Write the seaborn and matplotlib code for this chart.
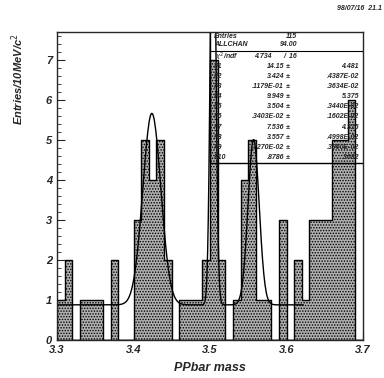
import numpy as np
import pandas as pd
import matplotlib
matplotlib.use("Agg")
import matplotlib.pyplot as plt
import seaborn as sns
from matplotlib.ticker import MultipleLocator

# ---- data ----
x_min, x_max, n_bins = 3.3, 3.7, 40
counts = [1, 2, 0, 1, 1, 1, 0, 2, 0, 0,
          3, 5, 4, 5, 2, 0, 1, 1, 1, 2,
          7, 2, 0, 1, 4, 5, 1, 1, 0, 3,
          0, 2, 1, 3, 3, 3, 5, 5, 6, 0]
x_ticks = [3.3, 3.4, 3.5, 3.6, 3.7]
y_ticks = [0, 1, 2, 3, 4, 5, 6, 7]

# fit parameters (three gaussians + flat background)
par_names = ["P1", "P2", "P3", "P4", "P5", "P6", "P7", "P8", "P9", "P10"]
par_vals = [14.15, 3.424, 0.01179, 9.949, 3.504, 0.003403, 7.536, 3.557, 0.00727, 0.8786]
par_txt = ["14.15", "3.424", ".1179E-01", "9.949", "3.504", ".3403E-02",
           "7.536", "3.557", ".7270E-02", ".8786"]
err_txt = ["4.481", ".4387E-02", ".3634E-02", "5.375", ".3440E-02", ".1602E-02",
           "4.315", ".4998E-02", ".3960E-02", ".3682"]
fit_range = (3.3, 3.622)

bin_w = (x_max - x_min) / n_bins
centers = x_min + bin_w * (np.arange(n_bins) + 0.5)
df = pd.DataFrame({"mass": centers, "w": counts})

sns.set_style("ticks")
FONT = "Liberation Sans"
plt.rcParams["font.family"] = [FONT, "DejaVu Sans"]
plt.rcParams["hatch.color"] = "#202020"
plt.rcParams["hatch.linewidth"] = 0.7

fig = plt.figure(figsize=(3.84, 3.78), dpi=100)
ax = fig.add_axes([57 / 384, 38 / 378, 306 / 384, 308 / 378])

sns.histplot(data=df, x="mass", weights="w", bins=n_bins, binrange=(x_min, x_max),
             element="step", fill=True, color="#b0b0b0", alpha=1.0,
             edgecolor="black", linewidth=1.0, ax=ax)
for c in ax.collections:
    c.set_hatch("......")
    c.set_facecolor("#b0b0b0")
    c.set_edgecolor("black")

# fit curve
def fit_fn(x, p):
    g = lambda a, m, s: a * bin_w / (np.sqrt(2 * np.pi) * s) * np.exp(-0.5 * ((x - m) / s) ** 2)
    return g(p[0], p[1], p[2]) + g(p[3], p[4], p[5]) + g(p[6], p[7], p[8]) + p[9]

xf = np.linspace(fit_range[0], fit_range[1], 400)
fit_df = pd.DataFrame({"mass": xf, "y": fit_fn(xf, par_vals)})
sns.lineplot(data=fit_df, x="mass", y="y", color="black", linewidth=1.0, ax=ax)

ax.set_xlim(x_min, x_max)
ax.set_ylim(0, 7.7)
ax.set_xticks(x_ticks)
ax.set_yticks(y_ticks)
ax.xaxis.set_minor_locator(MultipleLocator(0.02))
ax.yaxis.set_minor_locator(MultipleLocator(0.2))
ax.tick_params(axis="both", which="major", direction="in", length=6, width=0.8)
ax.tick_params(axis="both", which="minor", direction="in", length=3, width=0.6)
ax.set_xticklabels(["3.3", "3.4", "3.5", "3.6", "3.7"],
                   fontdict=dict(fontweight="bold", fontstyle="italic", fontsize=8))
ax.set_yticklabels([str(v) for v in y_ticks],
                   fontdict=dict(fontweight="bold", fontstyle="italic", fontsize=8))
for sp in ax.spines.values():
    sp.set_visible(True)
    sp.set_linewidth(1.0)
ax.set_xlabel("")
ax.set_ylabel("")

fig.text(210 / 384, 1 - 368 / 378, "PPbar mass", ha="center", va="center",
         fontsize=9, fontweight="bold", fontstyle="italic")
fig.text(18 / 384, 1 - 33 / 378, "Entries/10MeV/c$^{2}$", ha="center", va="top",
         rotation=90, fontsize=8, fontweight="bold", fontstyle="italic")
fig.text(382 / 384, 1 - 8 / 378, "98/07/16  21.1", ha="right", va="center",
         fontsize=5, fontweight="bold", fontstyle="italic")

# ---- statistics box ----
def fx(px):
    return (px - 57) / 306

def fy(py):
    return (340 - py) / 308

box_l, box_b = fx(210), fy(163)
ax.plot([box_l, box_l, 1.0], [1.0, box_b, box_b], transform=ax.transAxes,
        color="black", lw=1.0, clip_on=False)
ax.plot([box_l, 1.0], [fy(51), fy(51)], transform=ax.transAxes, color="black", lw=0.8)

tk = dict(transform=ax.transAxes, fontsize=5, fontweight="bold", fontstyle="italic",
          va="center")
ax.text(fx(214), fy(37), "Entries", ha="left", **tk)
ax.text(fx(297), fy(37), "115", ha="right", **tk)
ax.text(fx(214), fy(45), "ALLCHAN", ha="left", **tk)
ax.text(fx(297), fy(45), "94.00", ha="right", **tk)
ax.text(fx(215), fy(57), "$\\chi^2$/ndf", ha="left", **tk)
ax.text(fx(272), fy(57), "4.734", ha="right", **tk)
ax.text(fx(297), fy(57), "/  16", ha="right", **tk)
for i, (n, v, e) in enumerate(zip(par_names, par_txt, err_txt)):
    yy = fy(66 + i * 10.2)
    ax.text(fx(214), yy, n, ha="left", **tk)
    ax.text(fx(284), yy, v, ha="right", **tk)
    ax.text(fx(286), yy, "\u00b1", ha="left", **tk)
    ax.text(fx(359), yy, e, ha="right", **tk)

fig.savefig("out.png", dpi=100)
